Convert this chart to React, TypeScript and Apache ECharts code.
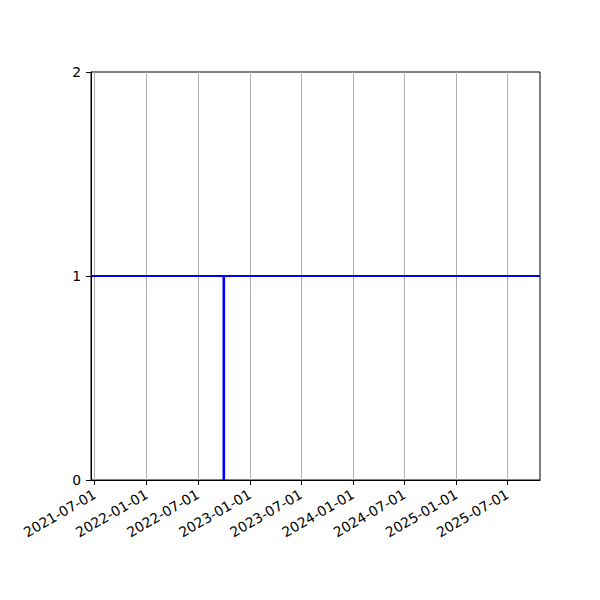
import React, { useEffect, useRef } from "react";
import * as echarts from "echarts";

const xRange = ["2021-06-18", "2025-10-24"];
const tickDates = [
  "2021-07-01", "2022-01-01", "2022-07-01", "2023-01-01", "2023-07-01",
  "2024-01-01", "2024-07-01", "2025-01-01", "2025-07-01",
];
const levelValue = 1;
const eventDate = "2022-10-01";
const eventRange = [0, 1];
const yTicks = [0, 1, 2];

const ts = (d: string) => {
  const [y, m, dd] = d.split("-").map(Number);
  return Date.UTC(y, m - 1, dd);
};
const pad = (n: number) => (n < 10 ? "0" + n : "" + n);
const fmt = (v: number) => {
  const d = new Date(v);
  return `${d.getUTCFullYear()}-${pad(d.getUTCMonth() + 1)}-${pad(d.getUTCDate())}`;
};

export default function App() {
  const ref = useRef<HTMLDivElement>(null);
  useEffect(() => {
    const chart = echarts.init(ref.current!, null, { renderer: "svg" });
    const font = "DejaVu Sans";
    const tickVals = tickDates.map(ts);
    chart.setOption({
      animation: false,
      textStyle: { fontFamily: font },
      grid: {
        left: 91,
        right: 60,
        top: 72,
        bottom: 120,
        show: true,
        borderColor: "#000",
        borderWidth: 1,
        backgroundColor: "transparent",
      },
      xAxis: {
        type: "value",
        min: ts(xRange[0]),
        max: ts(xRange[1]),
        axisLine: { show: true, onZero: false, lineStyle: { color: "#000", width: 1 } },
        axisTick: {
          show: true,
          length: 5,
          inside: false,
          lineStyle: { color: "#000", width: 1 },
          customValues: tickVals,
        },
        axisLabel: {
          customValues: tickVals,
          formatter: (v: number) => fmt(v),
          rotate: 30,
          color: "#000",
          fontSize: 13.9,
          fontFamily: font,
          margin: 13,
          hideOverlap: false,
        },
        splitLine: { show: true, lineStyle: { color: "#b0b0b0", width: 1 } },
      },
      yAxis: {
        type: "value",
        min: yTicks[0],
        max: yTicks[yTicks.length - 1],
        interval: 1,
        axisLine: { show: true, lineStyle: { color: "#000", width: 1 } },
        axisTick: { show: true, length: 5, lineStyle: { color: "#000", width: 1 } },
        axisLabel: { color: "#000", fontSize: 13.9, fontFamily: font, margin: 10 },
        splitLine: { show: false },
      },
      series: [
        {
          type: "line",
          data: [
            [ts(xRange[0]), levelValue],
            [ts(xRange[1]), levelValue],
          ],
          showSymbol: false,
          symbol: "none",
          lineStyle: { color: "#0000ff", width: 2 },
          silent: true,
        },
        {
          type: "line",
          data: [
            [ts(eventDate), eventRange[0]],
            [ts(eventDate), eventRange[1]],
          ],
          showSymbol: false,
          symbol: "none",
          lineStyle: { color: "#0000ff", width: 2.6 },
          silent: true,
        },
      ],
    });
    return () => chart.dispose();
  }, []);
  return (
    <div
      ref={ref}
      style={{ position: "fixed", left: 0, top: 0, width: 600, height: 600, background: "#fff" }}
    />
  );
}
